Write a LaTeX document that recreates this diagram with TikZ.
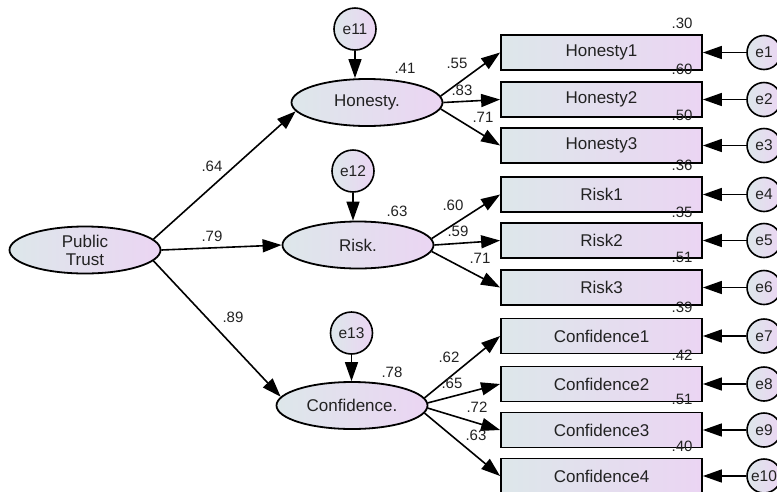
\documentclass[tikz,border=0pt]{standalone}
\usepackage{fontspec}
\setmainfont{Liberation Sans}
\usetikzlibrary{arrows.meta,shapes.geometric}
\definecolor{shL}{HTML}{DDE7EA}
\definecolor{shR}{HTML}{EBD5F3}
\definecolor{ink}{HTML}{222222}
\begin{document}
\begin{tikzpicture}[x=1pt,y=-1pt,
  every node/.style={inner sep=0pt,text=ink},
  latent/.style={ellipse,draw,line width=1.8pt,minimum width=151pt,minimum height=47pt,
     left color=shL,right color=shR,font=\fontsize{17}{19}\selectfont,align=center},
  obs/.style={rectangle,draw,line width=1.8pt,minimum width=201pt,minimum height=35pt,
     left color=shL,right color=shR,font=\fontsize{17}{19}\selectfont},
  errl/.style={circle,draw,line width=1.6pt,minimum size=42pt,
     shading=axis,shading angle=45,left color=shL,right color=shR,font=\fontsize{15.5}{17}\selectfont},
  erri/.style={circle,draw,line width=1.6pt,minimum size=34pt,
     shading=axis,shading angle=45,left color=shL,right color=shR,font=\fontsize{15.5}{17}\selectfont},
  arr/.style={-{Triangle[length=19pt,width=13pt]},line width=1.6pt},
  num/.style={font=\fontsize{15}{17}\selectfont}]
\useasboundingbox (0,0) rectangle (777,491);
% latent variables
\node[latent] (PT) at (85,250) {Public\\[-1pt]Trust};
\node[latent] (Hon) at (367,102.5) {Honesty.};
\node[latent] (Risk) at (358,245) {Risk.};
\node[latent] (Conf) at (352,405.5) {Confidence.};
% latent errors
\node[errl] (e11) at (355,29) {e11};
\node[errl] (e12) at (353,171) {e12};
\node[errl] (e13) at (351.5,333) {e13};
% observed
\node[obs] (H1) at (601.5,52.5) {Honesty1};
\node[obs] (H2) at (601.5,99.5) {Honesty2};
\node[obs] (H3) at (601.5,145.5) {Honesty3};
\node[obs] (R1) at (601.5,194.5) {Risk1};
\node[obs] (R2) at (601.5,240.5) {Risk2};
\node[obs] (R3) at (601.5,287.5) {Risk3};
\node[obs] (C1) at (601.5,336) {Confidence1};
\node[obs] (C2) at (601.5,384) {Confidence2};
\node[obs] (C3) at (601.5,430) {Confidence3};
\node[obs] (C4) at (601.5,476) {Confidence4};
% indicator errors
\node[erri] (e1) at (764,52.5) {e1};
\node[erri] (e2) at (764,99.5) {e2};
\node[erri] (e3) at (764,145.5) {e3};
\node[erri] (e4) at (764,194.5) {e4};
\node[erri] (e5) at (764,240.5) {e5};
\node[erri] (e6) at (764,287.5) {e6};
\node[erri] (e7) at (764,336) {e7};
\node[erri] (e8) at (764,384) {e8};
\node[erri] (e9) at (764,430) {e9};
\node[erri] (e10) at (764,476) {e10};
% structural paths
\draw[arr] (PT.9) -- (Hon.187);
\draw[arr] (PT.0) -- (Risk.180);
\draw[arr] (PT.-9) -- (Conf.173);
% latent error paths
\draw[arr] (e11) -- (e11 |- Hon.north);
\draw[arr] (e12) -- (e12 |- Risk.north);
\draw[arr] (e13) -- (e13 |- Conf.north);
% loadings
\draw[arr] (Hon.5) -- (H1.west);
\draw[arr] (Hon.0) -- (H2.west);
\draw[arr] (Hon.-5) -- (H3.west);
\draw[arr] (Risk.5) -- (R1.west);
\draw[arr] (Risk.0) -- (R2.west);
\draw[arr] (Risk.-5) -- (R3.west);
\draw[arr] (Conf.6) -- (C1.west);
\draw[arr] (Conf.2) -- (C2.west);
\draw[arr] (Conf.-2) -- (C3.west);
\draw[arr] (Conf.-6) -- (C4.west);
% indicator error paths
\foreach \e/\b in {e1/H1,e2/H2,e3/H3,e4/R1,e5/R2,e6/R3,e7/C1,e8/C2,e9/C3,e10/C4}
  \draw[arr] (\e) -- (\b);
% coefficients
\node[num] (n64) at (212,166) {.64};
\node[num] (n79) at (212,236) {.79};
\node[num] (n89) at (233,317) {.89};
\node[num] (n41) at (405,68) {.41};
\node[num] (n63a) at (397,211) {.63};
\node[num] (n78) at (392,372) {.78};
\node[num] (n55) at (457,63) {.55};
\node[num] (n83) at (462,90) {.83};
\node[num] (n71a) at (483,117) {.71};
\node[num] (n60a) at (453,205) {.60};
\node[num] (n59) at (458,231) {.59};
\node[num] (n71b) at (480,258) {.71};
\node[num] (n62) at (449,357) {.62};
\node[num] (n65) at (452,383) {.65};
\node[num] (n72) at (477,407) {.72};
\node[num] (n63b) at (476,435) {.63};
% squared multiple correlations
\node[num] (r1) at (682,23) {.30};
\node[num] (r2) at (682,69) {.60};
\node[num] (r3) at (682,115) {.50};
\node[num] (r4) at (682,165) {.36};
\node[num] (r5) at (682,212) {.35};
\node[num] (r6) at (682,257) {.51};
\node[num] (r7) at (682,307) {.39};
\node[num] (r8) at (682,355) {.42};
\node[num] (r9) at (682,399) {.51};
\node[num] (r10) at (682,446) {.40};
\end{tikzpicture}
\end{document}
